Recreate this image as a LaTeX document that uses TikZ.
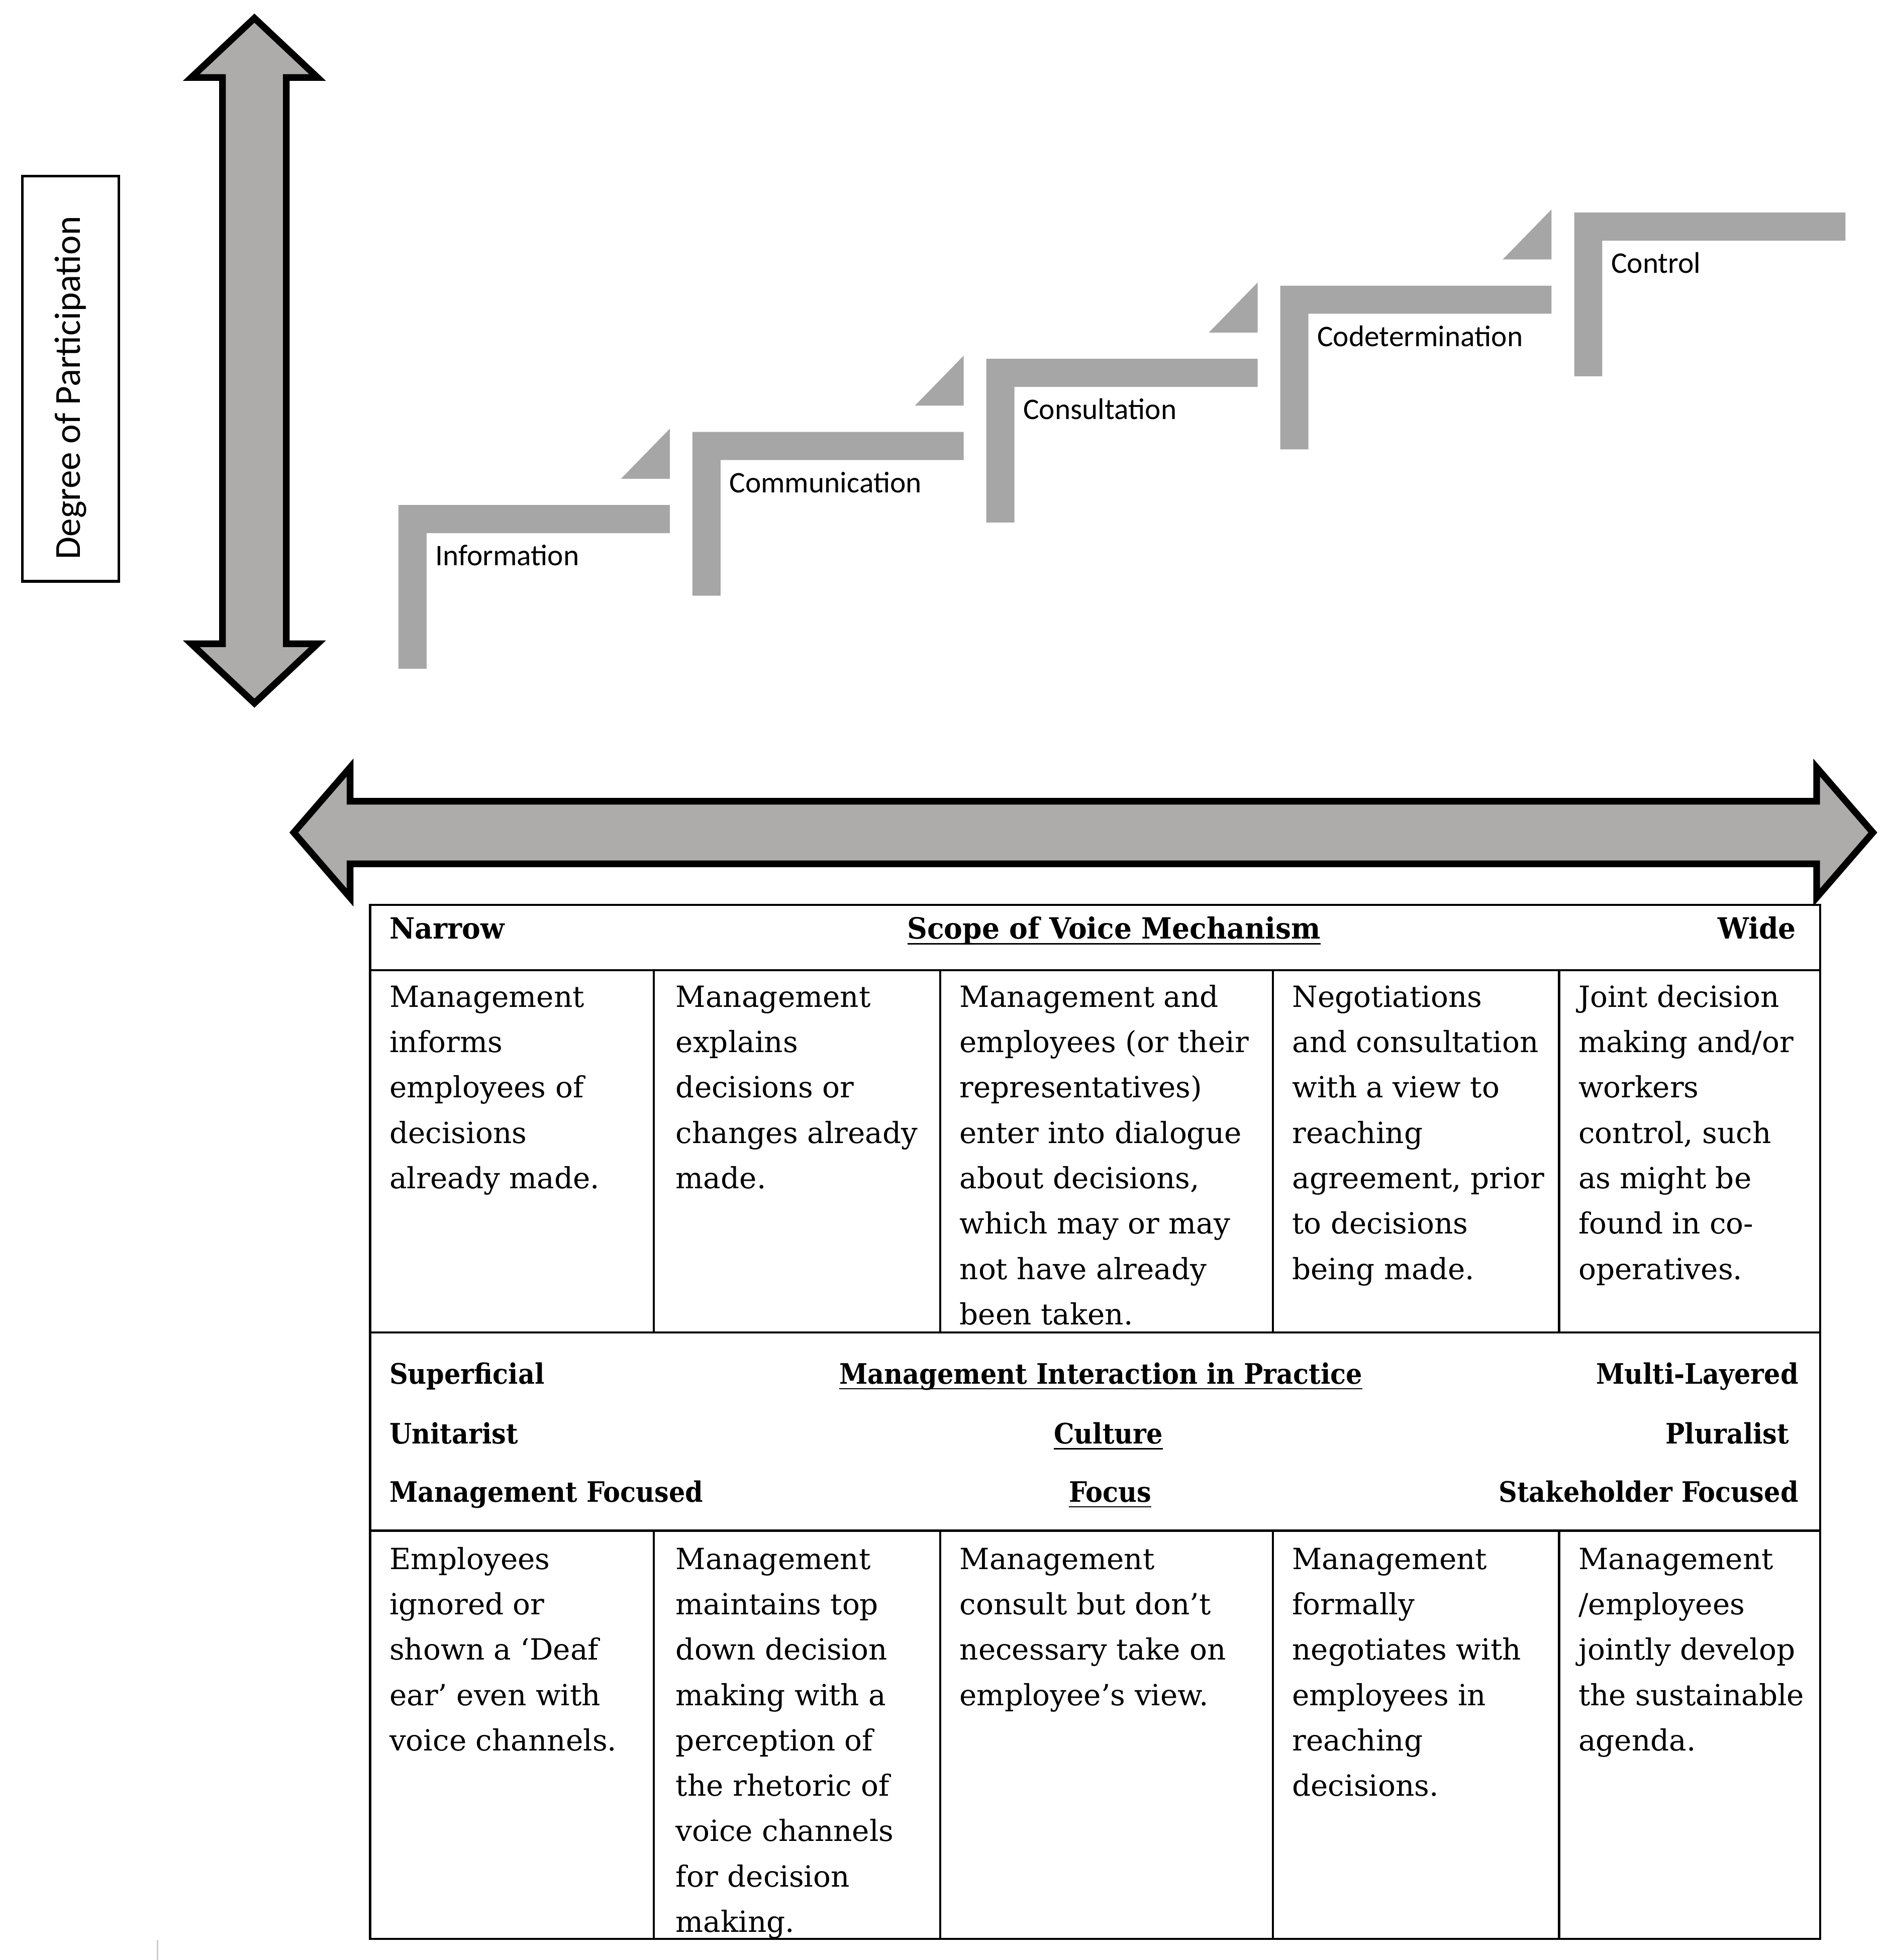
\documentclass[tikz,border=0pt]{standalone}
\usepackage{fontspec}
\setmainfont{DejaVu Serif}
\newfontfamily\calibri{Carlito}
\newfontfamily\headfont[FakeStretch=0.95]{DejaVu Serif}
\newfontfamily\midfont[FakeStretch=0.91]{DejaVu Serif}
\definecolor{arrowgray}{RGB}{174,171,171}
\definecolor{stepgray}{RGB}{166,166,166}

\begin{document}
\begin{tikzpicture}[
    x=0.0125cm, y=-0.0125cm,
    font=\fontsize{8.3}{12.9}\selectfont,
    % Style des grandes flèches
    bigarrow/.style={
        draw=black,
        fill=arrowgray,
        line width=1.9pt
    },
    % Style des marches
    stepbar/.style={fill=stepgray, draw=none},
    steplabel/.style={
        font=\calibri\fontsize{8.5}{10}\selectfont,
        inner sep=0pt,
        anchor=base west
    },
    % Style du tableau
    tabline/.style={draw=black, line width=0.6pt},
    cell/.style={anchor=north west, inner sep=0pt, align=left},
    head/.style={inner sep=0pt, font=\headfont\fontsize{8.3}{12.9}\selectfont\bfseries},
    midhead/.style={inner sep=0pt, font=\midfont\fontsize{8.0}{12.9}\selectfont\bfseries}
]
    \useasboundingbox (0,0) rectangle (1509,1568);

    % --- AXES ---

    % Cadre : Degree of Participation
    \node[draw, line width=0.75pt, rotate=90, minimum width=4.05cm, minimum height=0.9625cm,
          inner sep=0pt, font=\calibri\fontsize{10.45}{12}\selectfont] (degree) at (56.5,303) {Degree of Participation\kern0.18cm};

    % Flèche verticale
    \draw[bigarrow] (203.5,14.5) -- (254,62) -- (229,62) -- (229,515) -- (254,515) -- (203.5,562.5)
        -- (153,515) -- (178,515) -- (178,62) -- (153,62) -- cycle;

    % Flèche horizontale
    \draw[bigarrow] (235,666) -- (280,614) -- (280,641) -- (1453,641) -- (1453,614) -- (1498,666)
        -- (1453,718) -- (1453,691) -- (280,691) -- (280,718) -- cycle;

    % --- MARCHES ---
    \foreach \name/\txt [count=\i from 0] in {info/Information, comm/Communication, cons/Consultation, codet/Codetermination, ctrl/Control} {
        \pgfmathsetmacro{\sx}{318.7+235.1*\i}
        \pgfmathsetmacro{\sy}{404-58.5*\i}
        \fill[stepbar] (\sx,\sy+131) -- (\sx,\sy) -- (\sx+217,\sy) -- (\sx+217,\sy+22.5)
            -- (\sx+22.5,\sy+22.5) -- (\sx+22.5,\sy+131) -- cycle;
        \node[steplabel] (\name) at (\sx+29,\sy+48.5) {\txt};
        % Petit triangle au-dessus de la marche
        \ifnum\i<4
            \fill[stepbar] (\sx+217,\sy-61) -- (\sx+217,\sy-21) -- (\sx+178,\sy-21) -- cycle;
        \fi
    }

    % --- TABLEAU ---
    \draw[tabline] (296,724) rectangle (1456,1551);
    \foreach \yy in {776,1066,1224.5}
        \draw[tabline] (296,\yy) -- (1456,\yy);
    \foreach \xx in {523,752,1018,1247} {
        \draw[tabline] (\xx,776) -- (\xx,1066);
        \draw[tabline] (\xx,1224.5) -- (\xx,1551);
    }

    % En-tête : Scope of Voice Mechanism
    \node[head, anchor=base west] (narrow) at (311,751) {Narrow};
    \node[head, anchor=base] (scope) at (891,751) {\underline{\smash{Scope of Voice Mechanism}}};
    \node[head, anchor=base east] (wide) at (1437,751) {Wide};

    % Ligne 2
    \node[cell] (sc1) at (311,779.7) {\strut Management\\informs\\employees of\\decisions\\already made.};
    \node[cell] (sc2) at (540,779.7) {\strut Management\\explains\\decisions or\\changes already\\made.};
    \node[cell] (sc3) at (767,779.7) {\strut Management and\\employees (or their\\representatives)\\enter into dialogue\\about decisions,\\which may or may\\not have already\\been taken.};
    \node[cell] (sc4) at (1033,779.7) {\strut Negotiations\\and consultation\\with a view to\\reaching\\agreement, prior\\to decisions\\being made.};
    \node[cell] (sc5) at (1262,779.7) {\strut Joint decision\\making and/or\\workers\\control, such\\as might be\\found in co-\\operatives.};

    % En-tête : Management Interaction in Practice
    \node[midhead, anchor=base west] (superf) at (311,1107) {Superficial};
    \node[midhead, anchor=base] (mip) at (880.5,1107) {\underline{\smash{Management Interaction in Practice}}};
    \node[midhead, anchor=base east] (multi) at (1439,1107) {Multi-Layered};
    \node[midhead, anchor=base west] (unit) at (311,1155) {Unitarist};
    \node[midhead, anchor=base] (culture) at (886.6,1155) {\underline{\smash{Culture}}};
    \node[midhead, anchor=base east] (plural) at (1431.5,1155) {Pluralist};
    \node[midhead, anchor=base west] (mgmtfoc) at (311,1201.5) {Management Focused};
    \node[midhead, anchor=base] (focus) at (888,1201.5) {\underline{\smash{Focus}}};
    \node[midhead, anchor=base east] (stakefoc) at (1439,1201.5) {Stakeholder Focused};

    % Ligne 4
    \node[cell] (pr1) at (311,1229.4) {\strut Employees\\ignored or\\shown a ‘Deaf\\ear’ even with\\voice channels.};
    \node[cell] (pr2) at (540,1229.4) {\strut Management\\maintains top\\down decision\\making with a\\perception of\\the rhetoric of\\voice channels\\for decision\\making.};
    \node[cell] (pr3) at (767,1229.4) {\strut Management\\consult but don’t\\necessary take on\\employee’s view.};
    \node[cell] (pr4) at (1033,1229.4) {\strut Management\\formally\\negotiates with\\employees in\\reaching\\decisions.};
    \node[cell] (pr5) at (1262,1229.4) {\strut Management\\/employees\\jointly develop\\the sustainable\\agenda.};

    % Petit trait gris en bas à gauche
    \draw[gray!40, line width=0.5pt] (126,1552) -- (126,1568);

\end{tikzpicture}
\end{document}
